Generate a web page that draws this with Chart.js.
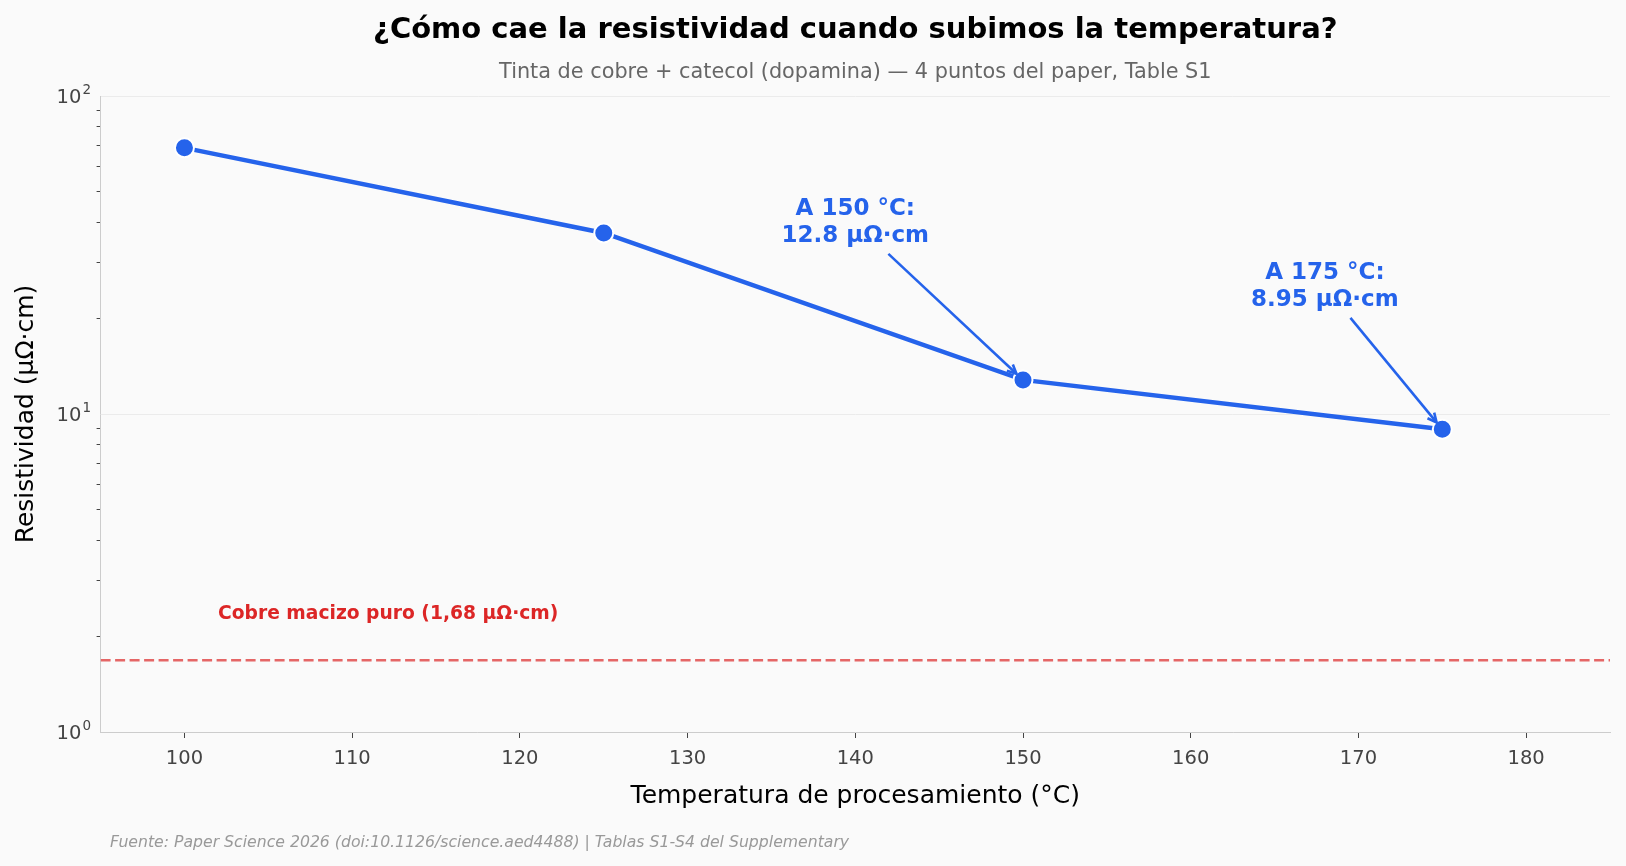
<!DOCTYPE html>
<html>
<head>
<meta charset="utf-8">
<script src="https://cdn.jsdelivr.net/npm/chart.js@4/dist/chart.umd.min.js"></script>
<style>
  html, body { margin: 0; padding: 0; background: #fafafa; }
  #wrap { width: 1626px; height: 866px; }
</style>
</head>
<body>
<div id="wrap"><canvas id="chart"></canvas></div>
<script>
const temps = [100, 125, 150, 175];
const resistivity = [68.7, 37.1, 12.8, 8.95];
const copperBulk = 1.68;
const xRange = [95, 185];
const xTicks = [100, 110, 120, 130, 140, 150, 160, 170, 180];
const yTicks = [1, 2, 3, 4, 5, 6, 7, 8, 9, 10, 20, 30, 40, 50, 60, 70, 80, 90, 100];
const yMajor = [1, 10, 100];

const title = "¿Cómo cae la resistividad cuando subimos la temperatura?";
const subtitle = "Tinta de cobre + catecol (dopamina) — 4 puntos del paper, Table S1";
const footer = "Fuente: Paper Science 2026 (doi:10.1126/science.aed4488) | Tablas S1-S4 del Supplementary";
const copperLabel = "Cobre macizo puro (1,68 μΩ·cm)";

// callouts: which point, and where the text sits (data coords)
const notes = [
  { i: 2, tx: 140, ty: 39.9, lines: ["A 150 °C:", "12.8 μΩ·cm"] },
  { i: 3, tx: 168, ty: 25.1, lines: ["A 175 °C:", "8.95 μΩ·cm"] },
];

const BLUE = "#2563eb";
const RED = "#dc2626";
const FONT = "'DejaVu Sans', sans-serif";

const extras = {
  id: "extras",
  afterDatasetsDraw(chart) {
    const { ctx, chartArea: a, scales: { x, y } } = chart;
    const cx = (a.left + a.right) / 2;
    ctx.save();

    // titles
    ctx.textAlign = "center";
    ctx.textBaseline = "middle";
    ctx.fillStyle = "#000";
    ctx.font = "bold 29px " + FONT;
    ctx.fillText(title, cx, 30);
    ctx.fillStyle = "#666";
    ctx.font = "20.8px " + FONT;
    ctx.fillText(subtitle, cx, 72.5);

    // footer
    ctx.textAlign = "left";
    ctx.fillStyle = "#999";
    ctx.font = "italic 15.7px " + FONT;
    ctx.fillText(footer, 110, 843);

    // log-axis labels as 10^n with a raised exponent
    ctx.fillStyle = "#444";
    ctx.textAlign = "right";
    yMajor.forEach(v => {
      const py = y.getPixelForValue(v);
      const exp = String(Math.round(Math.log10(v)));
      ctx.font = "13.5px " + FONT;
      ctx.fillText(exp, 91, py - 6);
      const ew = ctx.measureText(exp).width;
      ctx.font = "19.5px " + FONT;
      ctx.fillText("10", 91 - ew - 1, py + 2);
    });

    // copper label
    ctx.fillStyle = RED;
    ctx.font = "bold 18.7px " + FONT;
    ctx.textAlign = "left";
    ctx.textBaseline = "bottom";
    ctx.fillText(copperLabel, x.getPixelForValue(102), y.getPixelForValue(copperBulk * 1.31));

    // callouts
    ctx.font = "bold 23px " + FONT;
    ctx.textAlign = "center";
    ctx.textBaseline = "middle";
    ctx.strokeStyle = BLUE;
    ctx.fillStyle = BLUE;
    ctx.lineWidth = 2.6;
    notes.forEach(n => {
      const tx = x.getPixelForValue(n.tx), ty = y.getPixelForValue(n.ty);
      const px = x.getPixelForValue(temps[n.i]), py = y.getPixelForValue(resistivity[n.i]);
      const lh = 27;
      n.lines.forEach((l, k) => ctx.fillText(l, tx, ty + (k - (n.lines.length - 1) / 2) * lh));
      const dx = px - tx, dy = py - ty, len = Math.hypot(dx, dy);
      const ux = dx / len, uy = dy / len;
      const t0 = (lh + 4) / uy;
      const sx = tx + ux * t0, sy = ty + uy * t0;
      const ex = px - ux * 9, ey = py - uy * 9;
      ctx.beginPath();
      ctx.moveTo(sx, sy);
      ctx.lineTo(ex, ey);
      ctx.stroke();
      const ang = Math.atan2(uy, ux), h = 10, w = 0.45;
      ctx.beginPath();
      ctx.moveTo(ex - h * Math.cos(ang - w), ey - h * Math.sin(ang - w));
      ctx.lineTo(ex, ey);
      ctx.lineTo(ex - h * Math.cos(ang + w), ey - h * Math.sin(ang + w));
      ctx.stroke();
    });
    ctx.restore();
  }
};

new Chart(document.getElementById("chart"), {
  type: "line",
  data: {
    datasets: [
      {
        label: "Resistividad",
        data: temps.map((t, i) => ({ x: t, y: resistivity[i] })),
        borderColor: BLUE,
        borderWidth: 4.5,
        pointRadius: 9.5,
        pointHoverRadius: 9.5,
        pointBackgroundColor: BLUE,
        pointBorderColor: "#ffffff",
        pointBorderWidth: 2,
        tension: 0,
        order: 1,
      },
      {
        label: "Cobre macizo",
        data: xRange.map(t => ({ x: t, y: copperBulk })),
        borderColor: "rgba(220, 38, 38, 0.7)",
        borderWidth: 2.5,
        borderDash: [10, 4.5],
        pointRadius: 0,
        order: 2,
      },
    ],
  },
  options: {
    responsive: true,
    maintainAspectRatio: false,
    animation: false,
    layout: { padding: { top: 96, right: 16, bottom: 0, left: 0 } },
    plugins: {
      legend: { display: false },
      tooltip: { enabled: false },
    },
    scales: {
      x: {
        type: "linear",
        min: xRange[0],
        max: xRange[1],
        afterBuildTicks: s => { s.ticks = xTicks.map(v => ({ value: v })); },
        afterFit: s => { s.height = 134; },
        border: { color: "#cccccc", width: 1 },
        grid: { drawOnChartArea: false, tickColor: "#444", tickLength: 6 },
        ticks: { color: "#444", font: { family: FONT, size: 19.5 }, padding: 9, autoSkip: false, maxRotation: 0 },
        title: {
          display: true,
          text: "Temperatura de procesamiento (°C)",
          color: "#000",
          font: { family: FONT, size: 25 },
          padding: { top: 0, bottom: 55 },
        },
      },
      y: {
        type: "logarithmic",
        min: 1,
        max: 100,
        afterBuildTicks: s => { s.ticks = yTicks.map(v => ({ value: v })); },
        afterFit: s => { s.width = 100.6; },
        border: { color: "#cccccc", width: 1 },
        grid: {
          color: c => (c.tick && yMajor.includes(c.tick.value) ? "#ebebeb" : "rgba(0,0,0,0)"),
          tickColor: c => (c.tick && yMajor.includes(c.tick.value) ? "rgba(0,0,0,0)" : "#444"),
          tickLength: 4,
        },
        ticks: {
          autoSkip: false,
          callback: () => "",
        },
        title: {
          display: true,
          text: "Resistividad (μΩ·cm)",
          color: "#000",
          font: { family: FONT, size: 25 },
          padding: { top: 11, bottom: 0 },
        },
      },
    },
  },
  plugins: [extras],
});
</script>
</body>
</html>
